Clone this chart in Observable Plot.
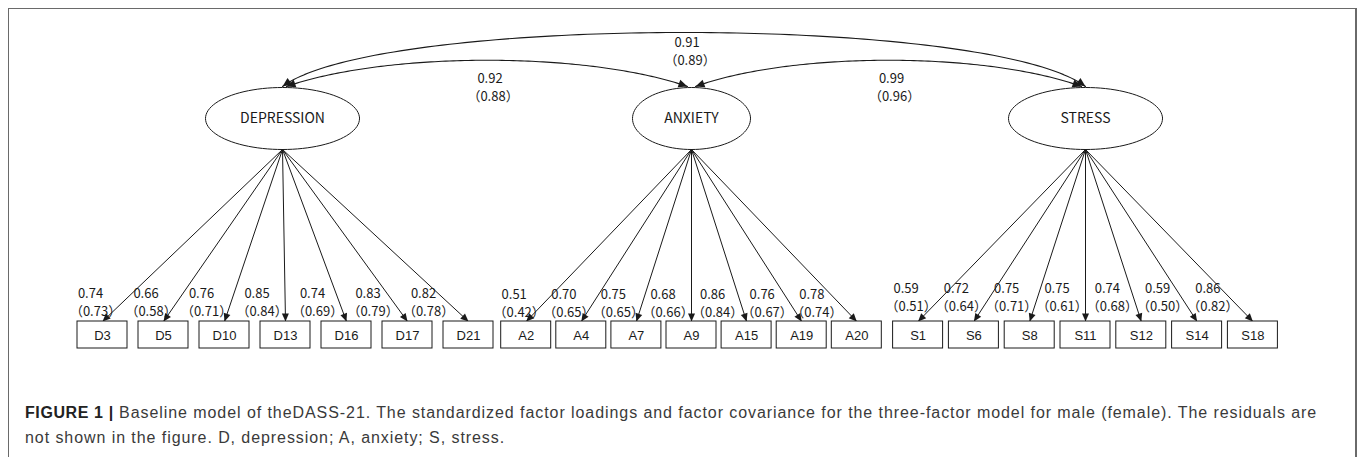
<!DOCTYPE html>
<html><head><meta charset="utf-8">
<script src="https://cdn.jsdelivr.net/npm/d3@7"></script>
<script src="https://cdn.jsdelivr.net/npm/@observablehq/plot@0.6"></script>
<style>
html,body{margin:0;padding:0;background:#fff;}
#wrap{position:relative;width:1358px;height:457px;overflow:hidden;}
#frame{position:absolute;left:8px;top:8px;width:1349px;height:480px;border:1px solid #6a6a6a;border-right:2px solid #6a6a6a;box-sizing:border-box;}
#chart{position:relative;height:380px;}
#chart svg{display:block;}
#caption{position:relative;margin-top:20px;padding-left:25px;font-family:"Liberation Sans",Arial,sans-serif;font-size:16px;letter-spacing:0.93px;line-height:25px;color:#3a3a3a;white-space:nowrap;}
#caption b{color:#222;letter-spacing:0.6px;}
</style></head>
<body>
<div id="wrap">
<div id="frame"></div>
<div id="chart"></div>
<div id="caption"><b>FIGURE 1 |</b> Baseline model of theDASS-21. The standardized factor loadings and factor covariance for the three-factor model for male (female). The residuals are<br>not shown in the figure. D, depression; A, anxiety; S, stress.</div>
</div>
<script>
// ---------- data ----------
const factors = ["DEPRESSION", "ANXIETY", "STRESS"];
const depressionItems = ["D3", "D5", "D10", "D13", "D16", "D17", "D21"];
const depressionMale = [0.74, 0.66, 0.76, 0.85, 0.74, 0.83, 0.82];
const depressionFemale = [0.73, 0.58, 0.71, 0.84, 0.69, 0.79, 0.78];
const anxietyItems = ["A2", "A4", "A7", "A9", "A15", "A19", "A20"];
const anxietyMale = [0.51, 0.70, 0.75, 0.68, 0.86, 0.76, 0.78];
const anxietyFemale = [0.42, 0.65, 0.65, 0.66, 0.84, 0.67, 0.74];
const stressItems = ["S1", "S6", "S8", "S11", "S12", "S14", "S18"];
const stressMale = [0.59, 0.72, 0.75, 0.75, 0.74, 0.59, 0.86];
const stressFemale = [0.51, 0.64, 0.71, 0.61, 0.68, 0.50, 0.82];
const covPairs = [["DEPRESSION", "ANXIETY"], ["ANXIETY", "STRESS"], ["DEPRESSION", "STRESS"]];
const covMale = [0.92, 0.99, 0.91];
const covFemale = [0.88, 0.96, 0.89];

// ---------- layout ----------
const L = {
  width: 1358, height: 380,
  factorCx: [282, 691, 1085], factorCy: 118, factorRx: [77, 59, 77], factorRy: 31,
  groupCenter: [285, 691, 1085], itemStep: [61, 55.1, 55.8],
  boxTop: 321, boxHeight: 27, boxWidth: 50,
  labelY: [293, 294, 288], parenGap: 18,
  labelShift0: 12, labelShiftStep: 5.5, parenShift: 5,
  covEndY: 86, covSplit: 4,
  covHeight: {1: 35, 2: 72}, covCtrl: {1: 0.25, 2: 0.12}, covLabelGap: {1: 19, 2: 10}
};
const ink = "#1a1a1a";
const numFont = '"Noto Sans CJK SC", "Noto Sans", sans-serif';
const paren = v => `（${v.toFixed(2)}）`;

// ---------- derived tables ----------
const groups = [
  [depressionItems, depressionMale, depressionFemale],
  [anxietyItems, anxietyMale, anxietyFemale],
  [stressItems, stressMale, stressFemale]
];
const items = [];
groups.forEach(([names, male, female], g) => {
  names.forEach((name, j) => {
    items.push({
      factor: factors[g], g, j, item: name, male: male[j], female: female[j],
      x: L.groupCenter[g] + (j - (names.length - 1) / 2) * L.itemStep[g]
    });
  });
});
const factorTable = factors.map((f, k) => ({factor: f, k, cx: L.factorCx[k], cy: L.factorCy, rx: L.factorRx[k], ry: L.factorRy}));

const ellipsePts = [];
factorTable.forEach(f => {
  for (let i = 0; i < 96; i++) {
    const a = (i / 96) * 2 * Math.PI;
    ellipsePts.push({factor: f.factor, x: f.cx + f.rx * Math.cos(a), y: f.cy + f.ry * Math.sin(a)});
  }
});

const covs = covPairs.map(([a, b], i) => {
  const ia = factors.indexOf(a), ib = factors.indexOf(b);
  const span = Math.abs(ib - ia);
  const off = span === 1 ? L.covSplit : 0;
  const x0 = L.factorCx[ia] + off, x1 = L.factorCx[ib] - off;
  const h = L.covHeight[span], c = L.covCtrl[span];
  return {i, a, b, span, x0, x1, h, c, male: covMale[i], female: covFemale[i]};
});
const cubic = (p0, p1, p2, p3, t) => { const u = 1 - t; return u*u*u*p0 + 3*u*u*t*p1 + 3*u*t*t*p2 + t*t*t*p3; };
const covPts = [];
covs.forEach(cv => {
  const w = cv.x1 - cv.x0, y0 = L.covEndY, yc = y0 - cv.h;
  for (let s = 0; s <= 120; s++) {
    const t = s / 120;
    covPts.push({pair: cv.i,
      x: cubic(cv.x0, cv.x0 + cv.c * w, cv.x1 - cv.c * w, cv.x1, t),
      y: cubic(y0, yc, yc, y0, t)});
  }
  cv.lx = (cv.x0 + cv.x1) / 2 + 3;
  cv.ly = y0 - 0.75 * cv.h + L.covLabelGap[cv.span];
});

// filled arrowhead marker
function headMarker(len, half) {
  return (color) => {
    const m = d3.create("svg:marker")
      .attr("viewBox", `${-len} ${-half} ${len} ${2 * half}`)
      .attr("markerWidth", len).attr("markerHeight", 2 * half)
      .attr("markerUnits", "userSpaceOnUse")
      .attr("orient", "auto-start-reverse")
      .attr("overflow", "visible")
      .attr("fill", ink).attr("stroke", "none");
    m.append("path").attr("d", `M0,0L${-len},${-half}L${-len},${half}Z`);
    return m.node();
  };
}

const plot = Plot.plot({
  width: L.width, height: L.height,
  marginTop: 0, marginRight: 0, marginBottom: 0, marginLeft: 0,
  x: {domain: [0, L.width], range: [0, L.width], axis: null},
  y: {domain: [0, L.height], range: [0, L.height], axis: null},
  style: {background: "transparent", color: ink},
  marks: [
    Plot.line(covPts, {x: "x", y: "y", z: "pair", stroke: ink, strokeWidth: 1.1,
      markerStart: headMarker(9, 4), markerEnd: headMarker(9, 4)}),
    Plot.link(items, {
      x1: d => L.factorCx[d.g], y1: L.factorCy + L.factorRy,
      x2: "x", y2: L.boxTop,
      stroke: ink, strokeWidth: 1, markerEnd: headMarker(8, 3.5)
    }),
    Plot.line(ellipsePts, {x: "x", y: "y", z: "factor", stroke: ink, strokeWidth: 1, curve: "linear-closed"}),
    Plot.text(factorTable, {x: "cx", y: "cy", text: "factor", fontSize: 14, fontFamily: numFont, fill: ink}),
    Plot.rect(items, {
      x1: d => d.x - L.boxWidth / 2, x2: d => d.x + L.boxWidth / 2,
      y1: L.boxTop, y2: L.boxTop + L.boxHeight,
      fill: "white", stroke: ink, strokeWidth: 1
    }),
    Plot.text(items, {x: "x", y: L.boxTop + L.boxHeight / 2 + 1, text: "item",
      fontSize: 13, fontFamily: '"Liberation Sans", Arial, sans-serif', fill: ink}),
    Plot.text(items, {
      x: d => d.x - L.labelShift0 - L.labelShiftStep * d.j,
      y: d => L.labelY[d.g],
      text: d => d.male.toFixed(2), fontSize: 13, fontFamily: numFont, fill: ink
    }),
    Plot.text(items, {
      x: d => d.x - L.labelShift0 - L.labelShiftStep * d.j + L.parenShift,
      y: d => L.labelY[d.g] + L.parenGap,
      text: d => paren(d.female), fontSize: 13, fontFamily: numFont, fill: ink
    }),
    Plot.text(covs, {x: "lx", y: "ly", text: d => d.male.toFixed(2), fontSize: 13, fontFamily: numFont, fill: ink}),
    Plot.text(covs, {x: d => d.lx + 3, y: d => d.ly + 18, text: d => paren(d.female), fontSize: 13, fontFamily: numFont, fill: ink})
  ]
});
document.getElementById("chart").appendChild(plot);
</script>
</body></html>
